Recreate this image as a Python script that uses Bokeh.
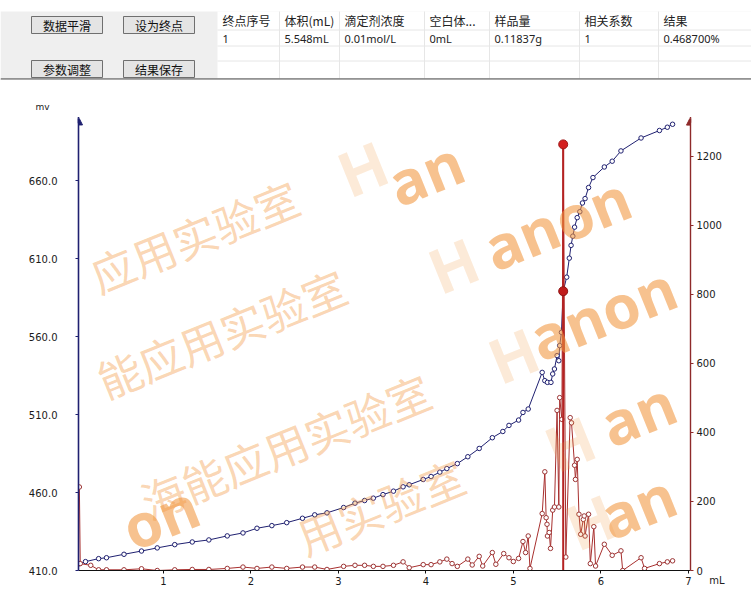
import math
from bokeh.plotting import figure
from bokeh.models import (Range1d, LinearAxis, Label, FixedTicker, NumeralTickFormatter, Arrow,
                          NormalHead, Title)
from bokeh.layouts import column
from bokeh.embed import file_html
from bokeh.resources import INLINE
from bokeh.core.properties import value

# ---------------- data ----------------
volume_ml = [0.04, 0.11, 0.26, 0.35, 0.55, 0.75, 0.93, 1.13, 1.33, 1.52, 1.73, 1.91, 2.07, 2.24,
             2.41, 2.59, 2.73, 2.87, 3.06, 3.19, 3.30, 3.40, 3.51, 3.63, 3.74, 3.81, 3.97, 4.06,
             4.16, 4.24, 4.36, 4.48, 4.61, 4.76, 4.88, 4.95, 5.06, 5.11, 5.17, 5.33, 5.36, 5.39,
             5.43, 5.45, 5.47, 5.50, 5.52, 5.53, 5.55, 5.57, 5.61, 5.64, 5.66, 5.68, 5.70, 5.73,
             5.76, 5.79, 5.82, 5.86, 5.91, 6.04, 6.13, 6.23, 6.46, 6.67, 6.76, 6.82]
potential_mv = [414.4, 415.7, 417.6, 418.2, 420.4, 422.5, 424.5, 426.6, 428.3, 429.6, 432.2, 434.1,
                437.1, 438.8, 440.7, 443.5, 445.7, 447.0, 450.4, 453.2, 454.9, 456.4, 458.7, 460.9,
                463.7, 465.0, 468.4, 470.3, 473.1, 475.4, 478.6, 483.0, 488.3, 495.2, 499.2, 503.1,
                506.5, 511.4, 513.6, 537.1, 531.8, 530.7, 530.7, 536.1, 539.3, 547.9, 544.6, 554.3,
                562.8, 589.2, 598.2, 610.4, 618.6, 624.5, 630.3, 636.4, 640.2, 645.8, 648.6, 655.7,
                662.1, 668.9, 672.6, 679.2, 687.5, 692.3, 694.4, 696.3]

deriv_ml = [0.04, 0.05, 0.17, 0.26, 0.35, 0.55, 0.75, 0.93, 1.13, 1.33, 1.52, 1.73, 1.91, 2.07,
            2.24, 2.41, 2.59, 2.73, 2.87, 3.06, 3.19, 3.30, 3.40, 3.51, 3.63, 3.74, 3.81, 3.97,
            4.06, 4.16, 4.24, 4.30, 4.36, 4.48, 4.53, 4.61, 4.65, 4.76, 4.80, 4.89, 4.95, 5.00,
            5.06, 5.11, 5.14, 5.17, 5.19, 5.33, 5.36, 5.375, 5.385, 5.39, 5.41, 5.425, 5.45, 5.47,
            5.50, 5.52, 5.53, 5.555, 5.57, 5.60, 5.65, 5.665, 5.70, 5.71, 5.73, 5.75, 5.77, 5.80,
            5.81, 5.82, 5.86, 5.88, 5.92, 5.94, 6.04, 6.13, 6.23, 6.25, 6.46, 6.50, 6.67, 6.76, 6.82]
deriv_value = [242, 20, 15, 2, 2, 2, 5, 0, 2, 3, 3, 6, 10, 6, 10, 6, 10, 10, 3, 12, 15, 15, 12, 12,
               15, 25, 8, 17, 17, 25, 33, 20, 12, 33, 16, 41, 13, 52, 18, 49, 37, 26, 35, 84, 52,
               100, 6, 165, 286, 153, 134, 100, 110, 64, 175, 184, 464, 184, 501, 438, 1235, 39,
               443, 428, 305, 264, 322, 163, 105, 148, 158, 100, 163, 20, 127, 13, 76, 44, 57, 0,
               37, 6, 20, 25, 28]

endpoint_ml = [5.57]
endpoint_mv = [589.2]
endpoint_peak = [1235]

x_ticks = [1, 2, 3, 4, 5, 6, 7]
mv_ticks = [410, 460, 510, 560, 610, 660]
deriv_ticks = [0, 200, 400, 600, 800, 1000, 1200]

button_labels = ["数据平滑", "设为终点", "参数调整", "结果保存"]
table_header = ["终点序号", "体积(mL)", "滴定剂浓度", "空白体...", "样品量", "相关系数", "结果"]
table_row = ["1", "5.548mL", "0.01mol/L", "0mL", "0.11837g", "1", "0.468700%"]

# ---------------- layout constants ----------------
W, H = 751, 595
TOP_H = 80
FL, FR, FT, FB = 78, 690, 118, 570      # plot frame in page pixels
XR = (0.03, 7.025)
YR = (410, 700)
DR = (0, 1310)
NAVY = "#1f2070"
DRED = "#8e2a2a"
RED = "#a8302f"
WM = "#f2963e"
ANG = math.radians(22)
CA, SA = math.cos(ANG), math.sin(ANG)
CN_FONT = "Noto Sans CJK SC"


def mx(X):
    return XR[0] + (X - FL) * (XR[1] - XR[0]) / (FR - FL)


def my(Y):
    return YR[0] + (FB - Y) * (YR[1] - YR[0]) / (FB - FT)


def clamp(X, Y, w, h, box):
    x0, y0, x1, y1 = box
    hx = (w * CA + h * SA) / 2 + 2
    hy = (w * SA + h * CA) / 2 + 2
    X = min(max(X, x0 + hx), x1 - hx)
    Y = min(max(Y, y0 + hy), y1 - hy)
    return X, Y


def along(X, Y, d):
    return X + d * CA, Y - d * SA


# watermark pieces: (X, Y, text, font, size, style, alpha, approx width, line height)
def cn(X, Y, t):
    return (X, Y, t, CN_FONT, 44, "normal", 0.40, 44 * len(t), 44 * 1.45)


def latin(X, Y, t):
    return (X, Y, t, "Open Sans", 60, "bold", 0.58, 38 * len(t), 60 * 1.36)


def logo(X, Y):
    return (X, Y, "H", "Open Sans", 62, "bold", 0.2, 44, 62 * 1.36)


wm_main = [
    cn(188, 235, "应用实验室"), cn(221, 332, "能应用实验室"), cn(285, 445, "海能应用实验室"),
    cn(380, 512, "用实验室"),
    logo(362, 160), latin(425, 160, "an"),
    logo(*along(525, 235, -78)), latin(*along(525, 235, 34), "anon"),
    logo(*along(585, 325, -78)), latin(*along(585, 325, 34), "anon"),
    logo(*along(625, 420, -60)), latin(*along(625, 420, 20), "an"),
    logo(590, 528), latin(655, 505, "an"),
    latin(160, 520, "on"),
]

# ---------------- top panel ----------------
top = figure(width=W, height=TOP_H, x_range=Range1d(0, W), y_range=Range1d(0, TOP_H),
             x_axis_location=None, y_axis_location=None, output_backend="svg",
             toolbar_location=None, min_border=0)
top.grid.visible = False
top.outline_line_color = None
top.background_fill_color = "#ffffff"
top.border_fill_color = "#ffffff"


def ty(Y):
    return TOP_H - Y


top.quad(left=[0], right=[W], top=[ty(11)], bottom=[ty(78)], fill_color="#efefef", line_color=None)
top.quad(left=[217], right=[W], top=[ty(11)], bottom=[ty(78)], fill_color="#ffffff", line_color=None)

col_left = [217, 279, 339, 424, 489, 579, 658]
for Yl in [29.5, 45.5, 60.5]:
    top.segment(x0=[217], y0=[ty(Yl)], x1=[W], y1=[ty(Yl)], line_color="#e6e6e6", line_width=1)
for Xl in col_left[1:]:
    top.segment(x0=[Xl], y0=[ty(11)], x1=[Xl], y1=[ty(78)], line_color="#e6e6e6", line_width=1)

top.text(x=[c + 5 for c in col_left], y=[ty(20)] * len(col_left), text=table_header,
         text_font=value(CN_FONT), text_font_size="12px", text_color="#222222",
         text_baseline="middle", text_align="left")
top.text(x=[c + 5 for c in col_left], y=[ty(38)] * len(col_left), text=table_row,
         text_font=value("Noto Sans"), text_font_size="11px", text_color="#222222",
         text_baseline="middle", text_align="left")

btn_x = [31, 123, 31, 123]
btn_y = [16, 16, 60, 60]
top.quad(left=btn_x, right=[b + 71 for b in btn_x], top=[ty(v) for v in btn_y],
         bottom=[ty(v + 17) for v in btn_y], fill_color="#e4e4e4", line_color="#6f6f6f", line_width=1)
top.text(x=[b + 35.5 for b in btn_x], y=[ty(v + 8.5) for v in btn_y], text=button_labels,
         text_font=value(CN_FONT), text_font_size="12px", text_color="#111111",
         text_baseline="middle", text_align="center")

top.segment(x0=[0], y0=[ty(78.5)], x1=[W], y1=[ty(78.5)], line_color="#707070", line_width=1.5)
top.segment(x0=[0], y0=[ty(79.6)], x1=[W], y1=[ty(79.6)], line_color="#c8c8c8", line_width=1)

# ---------------- main chart ----------------
main = figure(width=W, height=H - TOP_H, x_range=Range1d(*XR), y_range=Range1d(*YR),
              x_axis_location=None, y_axis_location=None, output_backend="svg",
              toolbar_location=None, min_border_left=FL, min_border_right=W - FR,
              min_border_top=FT - TOP_H, min_border_bottom=H - FB)
main.extra_y_ranges = {"d": Range1d(*DR)}
main.grid.visible = False
main.outline_line_color = None
main.background_fill_color = "#ffffff"
main.border_fill_color = "#ffffff"

for f in (top, main):
    try:
        f.frame_align = False
    except Exception:
        pass


def style_axis(ax, color, size="10px"):
    ax.axis_line_color = color
    ax.major_tick_line_color = color
    ax.minor_tick_line_color = None
    ax.major_tick_out = 3
    ax.major_tick_in = 0
    ax.major_label_text_font = "DejaVu Sans"
    ax.major_label_text_font_size = size
    ax.major_label_text_color = "#1a1a1a"


xaxis = LinearAxis(ticker=FixedTicker(ticks=x_ticks))
style_axis(xaxis, "#111111")
xaxis.major_label_standoff = 3
main.add_layout(xaxis, "below")

laxis = LinearAxis(ticker=FixedTicker(ticks=mv_ticks), formatter=NumeralTickFormatter(format="0.0"))
style_axis(laxis, NAVY)
laxis.axis_line_width = 1.6
laxis.major_label_standoff = 18
main.add_layout(laxis, "left")

raxis = LinearAxis(y_range_name="d", ticker=FixedTicker(ticks=deriv_ticks))
style_axis(raxis, DRED)
raxis.axis_line_width = 1.4
raxis.major_label_standoff = 3
main.add_layout(raxis, "right")

# unit captions (titles live in the side panels, so they are not clipped)
main.add_layout(Title(text="mv", align="left", offset=-43, standoff=14, text_font="DejaVu Sans",
                      text_font_size="9px", text_font_style="normal", text_color="#222222"),
                "above")
main.add_layout(Title(text="mL", align="right", offset=-34, standoff=-26, vertical_align="top",
                      text_font="DejaVu Sans", text_font_size="10px", text_font_style="normal",
                      text_color="#222222"), "below")

# titration curve
main.line(volume_ml, potential_mv, line_color=NAVY, line_width=1)
main.scatter(volume_ml, potential_mv, marker="circle", size=4.5, line_color=NAVY,
             fill_color="white", line_width=1)

# derivative curve
main.line(deriv_ml, deriv_value, y_range_name="d", line_color=RED, line_width=1)
main.scatter(deriv_ml, deriv_value, y_range_name="d", marker="circle", size=4.5,
             line_color="#9c3535", fill_color="white", line_width=1)
main.segment(x0=endpoint_ml, y0=[0], x1=endpoint_ml, y1=endpoint_peak, y_range_name="d",
             line_color="#b52222", line_width=2)
main.scatter(endpoint_ml, endpoint_peak, y_range_name="d", marker="circle", size=9,
             fill_color="#d42020", line_color="#a01818")
main.scatter(endpoint_ml, endpoint_mv, marker="circle", size=9,
             fill_color="#c01c1c", line_color="#8e1515")

# axis arrows
main.add_layout(Arrow(end=NormalHead(size=8, fill_color=NAVY, line_color=NAVY),
                      x_start=XR[0], y_start=YR[1] - 3, x_end=XR[0], y_end=YR[1] + 1,
                      line_color=NAVY, line_width=1.6))
main.add_layout(Arrow(end=NormalHead(size=8, fill_color=DRED, line_color=DRED),
                      x_start=XR[1], y_start=DR[1] - 12, x_end=XR[1], y_end=DR[1] + 4,
                      y_range_name="d", line_color=DRED, line_width=1.4))

# watermark overlay (kept inside the plotting frame)
for (X, Y, t, f, s, st, a, w, lh) in wm_main:
    X, Y = clamp(X, Y, w, lh, (FL, FT, FR, FB))
    main.add_layout(Label(x=mx(X), y=my(Y), text=t, angle=ANG, text_font=f,
                          text_font_size=f"{s}px", text_font_style=st, text_color=WM,
                          text_alpha=a, text_align="center", text_baseline="middle"))

page = column(top, main, spacing=0)
open("out.html", "w").write(file_html(page, INLINE))
